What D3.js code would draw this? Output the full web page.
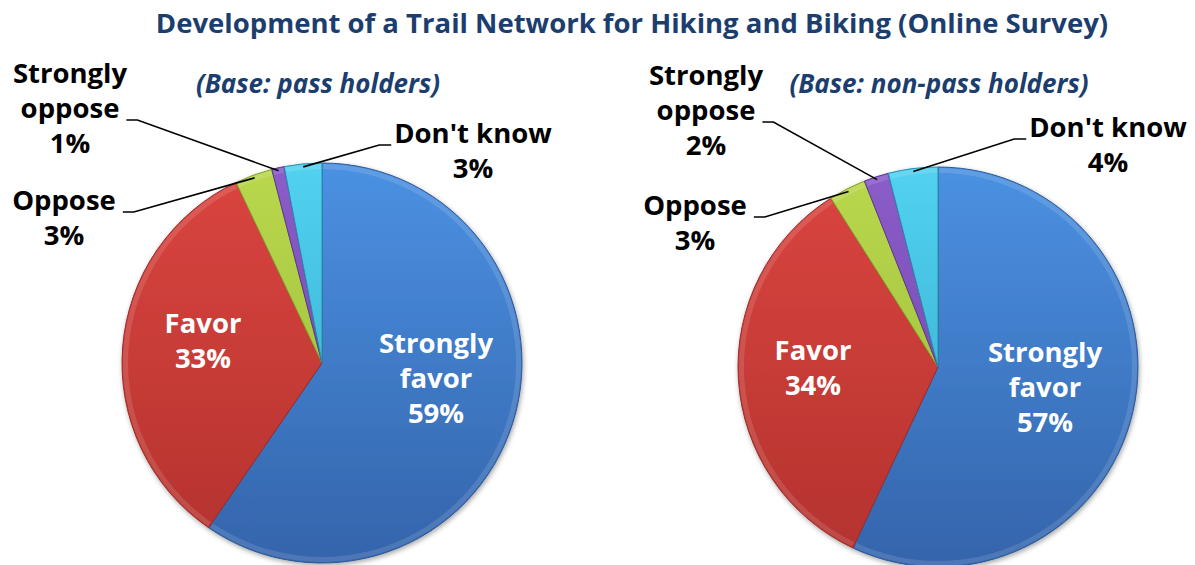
<!DOCTYPE html>
<html>
<head>
<meta charset="utf-8">
<script src="https://cdn.jsdelivr.net/npm/d3@7"></script>
<style>
  body { margin: 0; background: #fff; }
  svg { display: block; font-family: "Open Sans", "Noto Sans", sans-serif; }
</style>
</head>
<body>
<div id="chart"></div>
<script>
// data
const title = "Development of a Trail Network for Hiking and Biking (Online Survey)";
const categories = ["Strongly favor", "Favor", "Oppose", "Strongly oppose", "Don't know"];
const labelLines = [["Strongly", "favor"], ["Favor"], ["Oppose"], ["Strongly", "oppose"], ["Don't know"]];
const passHolders = [59, 33, 3, 1, 3];
const nonPassHolders = [57, 34, 3, 2, 4];
const subtitles = ["(Base: pass holders)", "(Base: non-pass holders)"];

// colours: [top, bottom] of each slice gradient
const colors = [
  ["#4b91e2", "#3464ab"],
  ["#db4540", "#b3322e"],
  ["#bad84e", "#96b835"],
  ["#8b5dca", "#6a41a3"],
  ["#52d2f0", "#2fa3c8"]
];

const W = 1195, H = 565;
const lineH = 35;

// layout of each pie and where its labels go (x = text centre, y = first baseline)
const pies = [
  {
    values: passHolders, subtitle: subtitles[0], cx: 322, cy: 363, r: 200, subX: 318, subY: 93,
    labels: [
      { x: 436, y: 353, inside: true },
      { x: 203, y: 333, inside: true },
      { x: 64, y: 210, side: "right" },
      { x: 70, y: 83, side: "right", lineRow: 1 },
      { x: 473, y: 143, side: "left" }
    ]
  },
  {
    values: nonPassHolders, subtitle: subtitles[1], cx: 938, cy: 367, r: 200, subX: 939, subY: 93,
    labels: [
      { x: 1045, y: 362, inside: true },
      { x: 813, y: 360, inside: true },
      { x: 695, y: 215, side: "right" },
      { x: 706, y: 85, side: "right", lineRow: 1 },
      { x: 1108, y: 137, side: "left" }
    ]
  }
];

const svg = d3.select("#chart").append("svg")
  .attr("width", W)
  .attr("height", H);

const defs = svg.append("defs");

const shadow = defs.append("filter").attr("id", "shadow")
  .attr("x", "-10%").attr("y", "-10%").attr("width", "120%").attr("height", "120%");
shadow.append("feDropShadow")
  .attr("dx", 1).attr("dy", 2).attr("stdDeviation", 2.5)
  .attr("flood-color", "#000").attr("flood-opacity", 0.35);

// title
svg.append("text")
  .attr("x", 632)
  .attr("y", 33)
  .attr("text-anchor", "middle")
  .attr("font-size", 27.5)
  .attr("font-weight", 700)
  .attr("fill", "#1c3e6e")
  .text(title);

const pie = d3.pie().sort(null).startAngle(0).endAngle(2 * Math.PI);

pies.forEach((p, pi) => {
  const g = svg.append("g").attr("transform", `translate(${p.cx},${p.cy})`);

  // one vertical gradient per slice, across the whole pie
  colors.forEach((c, i) => {
    const grad = defs.append("linearGradient")
      .attr("id", `grad-${pi}-${i}`)
      .attr("gradientUnits", "userSpaceOnUse")
      .attr("x1", 0).attr("y1", -p.r).attr("x2", 0).attr("y2", p.r);
    grad.append("stop").attr("offset", "0%").attr("stop-color", c[0]);
    grad.append("stop").attr("offset", "100%").attr("stop-color", c[1]);
  });

  const arc = d3.arc().innerRadius(0).outerRadius(p.r);
  const edgeArc = d3.arc().innerRadius(p.r * 0.985).outerRadius(p.r * 0.985);

  const arcs = pie(p.values);

  const slices = g.append("g").attr("filter", "url(#shadow)");
  slices.selectAll("path")
    .data(arcs)
    .enter().append("path")
    .attr("d", arc)
    .attr("fill", (d, i) => `url(#grad-${pi}-${i})`)
    .attr("stroke", (d, i) => d3.color(colors[i][1]).darker(0.4))
    .attr("stroke-width", 1)
    .attr("stroke-linejoin", "round");

  // subtle bevel highlight on each slice
  const bevel = d3.arc().innerRadius(p.r - 6).outerRadius(p.r - 1);
  g.append("g").selectAll("path")
    .data(arcs)
    .enter().append("path")
    .attr("d", d => bevel({ startAngle: d.startAngle + 0.006, endAngle: d.endAngle - 0.006 }))
    .attr("fill", "#fff")
    .attr("opacity", 0.12);

  // subtitle
  svg.append("text")
    .attr("x", p.subX)
    .attr("y", p.subY)
    .attr("text-anchor", "middle")
    .attr("font-size", 26)
    .attr("font-weight", 700)
    .attr("font-style", "italic")
    .attr("fill", "#1c3e6e")
    .text(p.subtitle);

  // labels
  arcs.forEach((d, i) => {
    const L = p.labels[i];
    const lines = labelLines[i].concat([Math.round(p.values[i]) + "%"]);
    const t = svg.append("text")
      .attr("text-anchor", "middle")
      .attr("font-size", 27.5)
      .attr("font-weight", 700)
      .attr("fill", L.inside ? "#fff" : "#000");
    const spans = lines.map((s, k) => t.append("tspan")
      .attr("x", L.x)
      .attr("y", L.y + k * lineH)
      .text(s));

    if (!L.inside) {
      const row = L.lineRow || 0;
      const box = spans[row].node().getBBox();
      const ly = L.y + row * lineH + 2;
      const [ex, ey] = edgeArc.centroid(d);
      let x0, x1;
      if (L.side === "right") {
        x0 = box.x + box.width + 7;
        x1 = x0 + 11;
      } else {
        x0 = box.x - 3;
        x1 = x0 - 12;
      }
      svg.append("path")
        .attr("d", d3.line()([[x0, ly], [x1, ly], [p.cx + ex, p.cy + ey]]))
        .attr("fill", "none")
        .attr("stroke", "#000")
        .attr("stroke-width", 1.6);
    }
  });
});
</script>
</body>
</html>
